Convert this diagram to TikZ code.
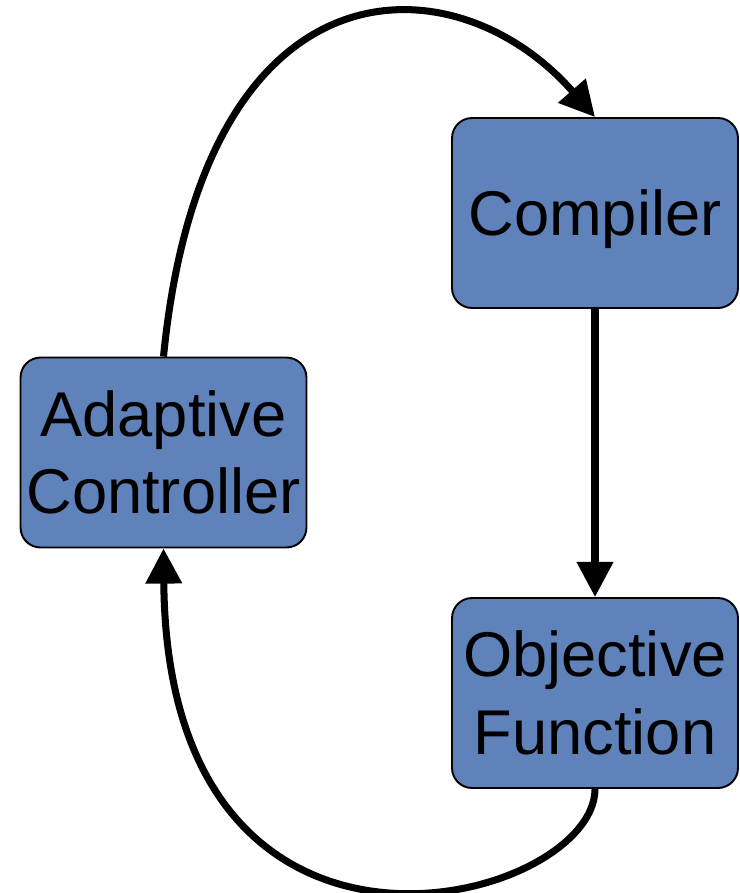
\documentclass[tikz,border=0pt]{standalone}
\usepackage{fontspec}
\setmainfont{Liberation Sans}
\usetikzlibrary{positioning, arrows.meta}
\definecolor{boxblue}{HTML}{5F82BA}

\begin{document}
\begin{tikzpicture}[
  x=0.02cm, y=-0.02cm,
  box/.style = {draw, line width=1.1pt, fill=boxblue, rounded corners=0.4cm,
                minimum width=5.72cm, minimum height=3.8cm, align=center,
                font=\fontsize{36}{44}\selectfont, inner sep=0pt},
  arr/.style = {-{Triangle[length=20pt, width=20pt]}, line width=4pt}
]
\useasboundingbox (0,0) rectangle (740,893);

\node[box, text depth=0pt] (cp) at (595,213) {Compiler};
\node[box] (ac) at (163.5,452.5) {Adaptive\\Controller};
\node[box] (of) at (595,693)   {Objective\\Function};

\draw[arr] (cp) -- (of);
\draw[arr] (ac.north) .. controls +(40,-405) and +(-140,-160) .. (cp.north); % loop over the top
\draw[arr] (of.south) .. controls +(0,115) and +(4,470) .. (ac.south);       % back round the bottom

\end{tikzpicture}
\end{document}
